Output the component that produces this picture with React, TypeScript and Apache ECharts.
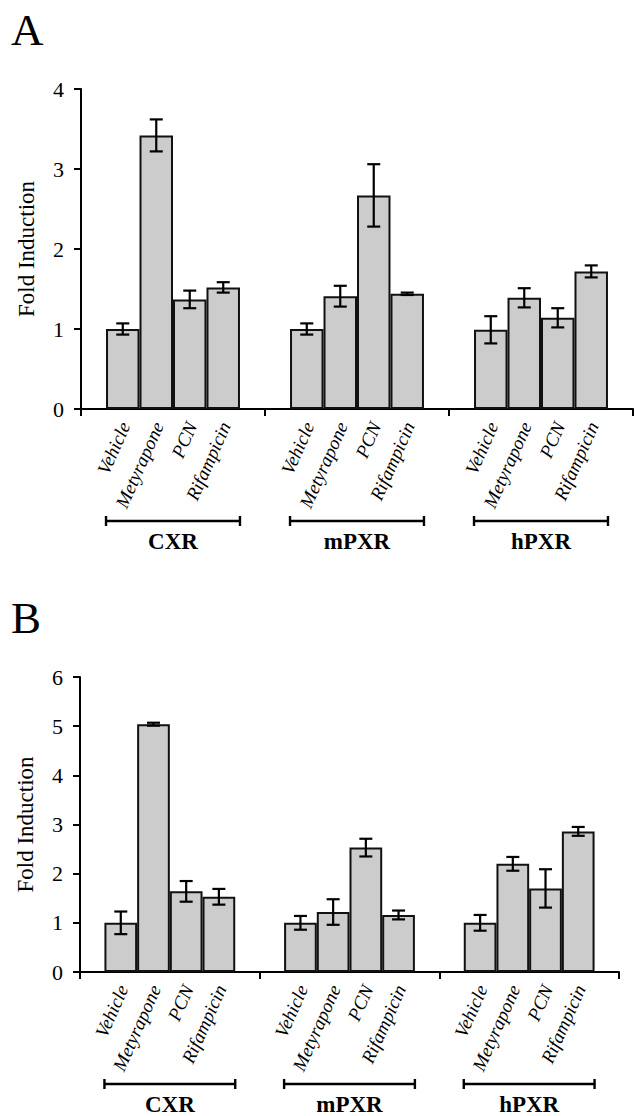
import React, { useEffect, useRef } from "react";
import * as echarts from "echarts";

const groups = ["CXR", "mPXR", "hPXR"];
const treatments = ["Vehicle", "Metyrapone", "PCN", "Rifampicin"];

// Panel A: fold induction (Vehicle, Metyrapone, PCN, Rifampicin) and error
const aCXR = [1.0, 3.42, 1.37, 1.52];
const aCXRErr = [0.07, 0.2, 0.11, 0.065];
const aMPXR = [1.0, 1.41, 2.67, 1.44];
const aMPXRErr = [0.07, 0.13, 0.39, 0.015];
const aHPXR = [0.99, 1.39, 1.14, 1.72];
const aHPXRErr = [0.17, 0.12, 0.12, 0.075];

// Panel B
const bCXR = [1.0, 5.04, 1.64, 1.53];
const bCXRErr = [0.23, 0.03, 0.21, 0.16];
const bMPXR = [1.0, 1.22, 2.53, 1.16];
const bMPXRErr = [0.14, 0.26, 0.18, 0.09];
const bHPXR = [1.0, 2.2, 1.7, 2.86];
const bHPXRErr = [0.16, 0.14, 0.39, 0.09];

const yMaxA = 4;
const yMaxB = 6;

const SERIF = '"Liberation Serif", "Times New Roman", serif';
const GAP = 0.272;

function panelSeries(p: number, vals: number[][], errs: number[][]) {
  const bars = treatments.map((name, t) => ({
    type: "bar",
    name,
    xAxisIndex: p,
    yAxisIndex: p,
    data: vals.map((arr) => arr[t]),
    barGap: "0%",
    barCategoryGap: GAP * 100 + "%",
    silent: true,
    itemStyle: { color: "#cccccc", borderColor: "#111", borderWidth: 2 },
  }));
  const rows: number[][] = [];
  vals.forEach((arr, g) => arr.forEach((v, t) => rows.push([g, t, v, errs[g][t]])));
  const custom = {
    type: "custom",
    xAxisIndex: p,
    yAxisIndex: p,
    z: 5,
    clip: false,
    silent: true,
    encode: { x: 0, y: 2 },
    data: rows,
    renderItem: (_params: any, api: any) => {
      const g = api.value(0);
      const t = api.value(1);
      const v = api.value(2);
      const e = api.value(3);
      const band = api.size([1, 0])[0];
      const bw = (band * (1 - GAP)) / 4;
      const base = api.coord([g, 0]);
      const cx = base[0] + (t - 1.5) * bw;
      const yHi = api.coord([g, v + e])[1];
      const yLo = api.coord([g, v - e])[1];
      const cap = 6.5;
      const ls = { stroke: "#000", lineWidth: 2.2 };
      const children: any[] = [
        { type: "line", shape: { x1: cx, y1: yHi, x2: cx, y2: yLo }, style: ls },
        { type: "line", shape: { x1: cx - cap, y1: yHi, x2: cx + cap, y2: yHi }, style: ls },
        { type: "line", shape: { x1: cx - cap, y1: yLo, x2: cx + cap, y2: yLo }, style: ls },
        {
          type: "text",
          x: cx + 2,
          y: base[1] + 14,
          rotation: (66 * Math.PI) / 180,
          style: {
            text: treatments[t],
            fontFamily: SERIF,
            fontStyle: "italic",
            fontSize: 19,
            fill: "#000",
            align: "right",
            verticalAlign: "middle",
          },
        },
      ];
      if (t === 0) {
        const x1 = cx - bw / 2;
        const x2 = cx + 3.5 * bw;
        const y = base[1] + 112;
        const bl = { stroke: "#000", lineWidth: 2.4 };
        children.push(
          { type: "line", shape: { x1, y1: y, x2, y2: y }, style: bl },
          { type: "line", shape: { x1, y1: y - 5, x2: x1, y2: y + 5 }, style: bl },
          { type: "line", shape: { x1: x2, y1: y - 5, x2: x2, y2: y + 5 }, style: bl }
        );
      }
      return { type: "group", children };
    },
  };
  return [...bars, custom];
}

function xAxisFor(p: number) {
  return {
    type: "category",
    gridIndex: p,
    data: groups,
    boundaryGap: true,
    axisLine: { lineStyle: { color: "#000", width: 2 } },
    axisTick: { show: true, length: 7, interval: 0, lineStyle: { color: "#000", width: 2 } },
    axisLabel: {
      interval: 0,
      margin: 121,
      fontFamily: SERIF,
      fontWeight: "bold",
      fontSize: 23,
      color: "#000",
    },
    splitLine: { show: false },
  };
}

function yAxisFor(p: number, max: number) {
  return {
    type: "value",
    gridIndex: p,
    min: 0,
    max,
    interval: 1,
    name: "Fold Induction",
    nameLocation: "middle",
    nameRotate: 90,
    nameGap: 43,
    nameTextStyle: { fontFamily: SERIF, fontSize: 23, color: "#000" },
    axisLine: { show: true, lineStyle: { color: "#000", width: 2 } },
    axisTick: { show: true, length: 7, lineStyle: { color: "#000", width: 2 } },
    axisLabel: { margin: 17, fontFamily: SERIF, fontSize: 22, color: "#000" },
    splitLine: { show: false },
  };
}

export default function App() {
  const ref = useRef<HTMLDivElement>(null);
  useEffect(() => {
    if (!ref.current) return;
    const chart = echarts.init(ref.current, null, { renderer: "svg" });
    const option = {
      animation: false,
      backgroundColor: "#fff",
      grid: [
        { left: 81, top: 89, width: 552, height: 320 },
        { left: 80, top: 677, width: 539, height: 296 },
      ],
      xAxis: [xAxisFor(0), xAxisFor(1)],
      yAxis: [yAxisFor(0, yMaxA), yAxisFor(1, yMaxB)],
      graphic: [
        {
          type: "text",
          x: 11,
          y: 30,
          style: { text: "A", fontFamily: SERIF, fontSize: 45, fill: "#000", align: "left", verticalAlign: "middle" },
        },
        {
          type: "text",
          x: 11,
          y: 618,
          style: { text: "B", fontFamily: SERIF, fontSize: 45, fill: "#000", align: "left", verticalAlign: "middle" },
        },
      ],
      series: [
        ...panelSeries(0, [aCXR, aMPXR, aHPXR], [aCXRErr, aMPXRErr, aHPXRErr]),
        ...panelSeries(1, [bCXR, bMPXR, bHPXR], [bCXRErr, bMPXRErr, bHPXRErr]),
      ],
    };
    chart.setOption(option as any);
    return () => chart.dispose();
  }, []);
  return (
    <div
      ref={ref}
      style={{ position: "absolute", left: 0, top: 0, width: 634, height: 1116 }}
    />
  );
}
